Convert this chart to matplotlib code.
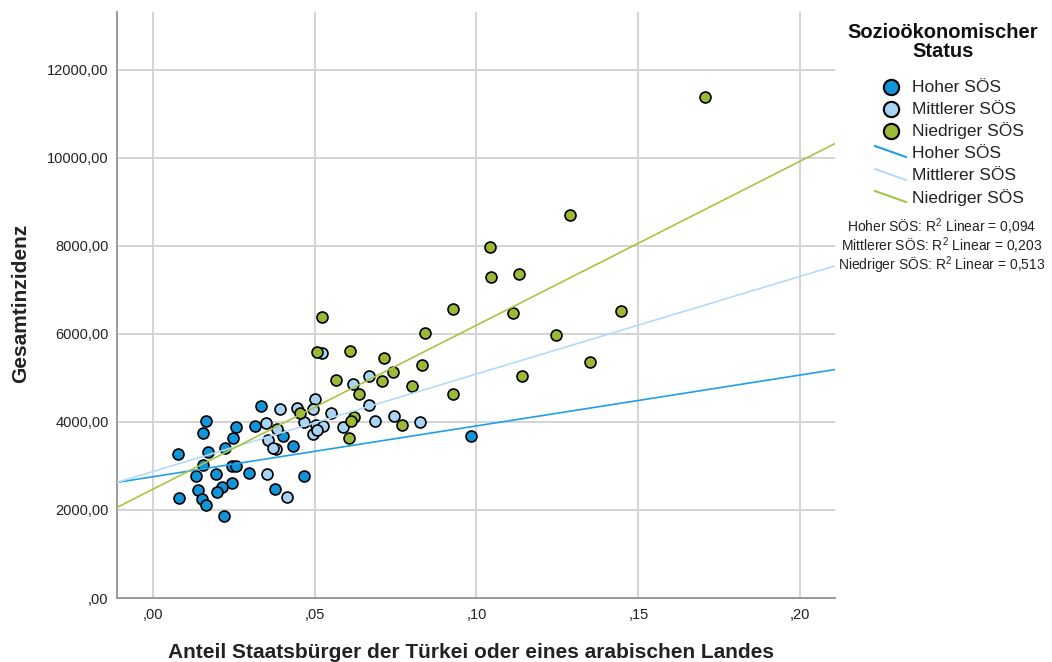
import matplotlib
matplotlib.use("Agg")
import matplotlib.pyplot as plt
from matplotlib.lines import Line2D
import numpy as np

plt.rcParams['font.family'] = ['Liberation Sans', 'DejaVu Sans']
plt.rcParams['mathtext.default'] = 'regular'

# Werte
groups = ['Hoher SÖS', 'Mittlerer SÖS', 'Niedriger SÖS']
r2_text = ['0,094', '0,203', '0,513']

hoher_x = [0.0335, 0.0166, 0.0257, 0.0316, 0.0157, 0.0248, 0.0078, 0.0172, 0.0224, 0.0157,
           0.0246, 0.0257, 0.0133, 0.0195, 0.0298, 0.0141, 0.0244, 0.0213, 0.0198, 0.0081,
           0.0152, 0.0164, 0.0220, 0.0403, 0.0432, 0.0468, 0.0377, 0.0983]
hoher_y = [4370, 4023, 3895, 3902, 3757, 3643, 3280, 3325, 3402, 3023,
           3007, 3007, 2780, 2811, 2834, 2447, 2607, 2516, 2402, 2266,
           2250, 2114, 1871, 3682, 3461, 2773, 2470, 3675]

mittel_x = [0.0524, 0.0668, 0.0619, 0.0501, 0.0669, 0.0447, 0.0494, 0.0550, 0.0466, 0.0686,
            0.0746, 0.0827, 0.0505, 0.0525, 0.0587, 0.0495, 0.0509, 0.0393, 0.0349, 0.0384,
            0.0357, 0.0380, 0.0372, 0.0352, 0.0414]
mittel_y = [5561, 5045, 4856, 4530, 4379, 4318, 4288, 4211, 4000, 4030,
            4136, 4000, 3939, 3909, 3894, 3727, 3818, 4295, 3970, 3834,
            3591, 3386, 3420, 2811, 2302]

niedrig_x = [0.1707, 0.1290, 0.1042, 0.1044, 0.1132, 0.0929, 0.1113, 0.1445, 0.1244, 0.1352,
             0.1139, 0.0929, 0.0524, 0.0841, 0.0509, 0.0610, 0.0715, 0.0831, 0.0742, 0.0566,
             0.0709, 0.0802, 0.0636, 0.0455, 0.0623, 0.0614, 0.0771, 0.0606]
niedrig_y = [11386, 8705, 7985, 7295, 7370, 6575, 6470, 6515, 5985, 5370,
             5052, 4643, 6380, 6030, 5584, 5614, 5455, 5289, 5136, 4962,
             4924, 4818, 4636, 4197, 4120, 4023, 3932, 3636]

xs_data = [hoher_x, mittel_x, niedrig_x]
ys_data = [hoher_y, mittel_y, niedrig_y]
fill_colors = ['#0f95d8', '#a9d3f3', '#9bb934']
line_colors = ['#1ea0e6', '#b3dbf7', '#a8c444']

W, H = 1052, 662
fig = plt.figure(figsize=(W / 100, H / 100), dpi=100)
ax = fig.add_axes([117 / W, 64 / H, (835 - 117) / W, (598 - 12) / H])

xlim = (-0.011, 0.2107)
ax.set_xlim(xlim)
ax.set_ylim(0, 13318)

for x, y, fc in zip(xs_data, ys_data, fill_colors):
    ax.scatter(x, y, s=62, c=fc, edgecolors='black', linewidths=1.2, zorder=3)

# Regressionsgeraden ueber den ganzen x-Bereich
xx = np.array(xlim)
for x, y, lc in zip(xs_data, ys_data, line_colors):
    coef = np.polyfit(x, y, 1)
    ax.plot(xx, np.polyval(coef, xx), color=lc, lw=1.2, zorder=4)


def de_fmt(v):
    s = f"{v:.2f}".replace('.', ',')
    if s.startswith('0,'):
        s = s[1:]
    return s


xticks = [0.0, 0.05, 0.10, 0.15, 0.20]
yticks = [0, 2000, 4000, 6000, 8000, 10000, 12000]
ax.set_xticks(xticks)
ax.set_xticklabels([de_fmt(v) for v in xticks])
ax.set_yticks(yticks)
ax.set_yticklabels([de_fmt(v) for v in yticks])
ax.tick_params(length=0, labelsize=10.5, colors='#222222')
ax.tick_params(axis='y', pad=6)
ax.tick_params(axis='x', pad=7)

ax.grid(True, color='#d4d4d4', lw=1.4)
ax.set_axisbelow(True)
for side in ['top', 'right']:
    ax.spines[side].set_visible(False)
for side in ['left', 'bottom']:
    ax.spines[side].set_color('#999999')
    ax.spines[side].set_linewidth(1.4)


def fx(px):
    return px / W


def fy(py):
    return 1 - py / H


fig.text(fx(21), fy(303), 'Gesamtinzidenz', rotation=90, ha='center', va='center',
         fontsize=15, fontweight='bold', color='#222222')
fig.text(fx(471), fy(652), 'Anteil Staatsbürger der Türkei oder eines arabischen Landes',
         ha='center', va='center', fontsize=15, fontweight='bold', color='#222222')

# Legende
fig.text(fx(943), fy(42), 'Sozioökonomischer\nStatus', ha='center', va='center',
         fontsize=14.5, fontweight='bold', linespacing=0.95, color='#111111')
marker_rows = [87, 109, 131]
line_rows = [153, 176, 198]
for row, name, fc in zip(marker_rows, groups, fill_colors):
    fig.add_artist(Line2D([fx(891)], [fy(row)], transform=fig.transFigure, marker='o',
                          ms=11, mfc=fc, mec='black', mew=1.5, ls='none'))
    fig.text(fx(912), fy(row), name, ha='left', va='center', fontsize=12.5, color='#222222')
for row, name, lc in zip(line_rows, groups, line_colors):
    fig.add_artist(Line2D([fx(875), fx(906)], [fy(row - 7), fy(row + 4)],
                          transform=fig.transFigure, color=lc, lw=1.5))
    fig.text(fx(912), fy(row), name, ha='left', va='center', fontsize=12.5, color='#222222')

r2_rows = [227, 246, 265]
for row, name, r2 in zip(r2_rows, groups, r2_text):
    fig.text(fx(942), fy(row), f'{name}: R$^2$ Linear = {r2}', ha='center', va='center',
             fontsize=10, color='#222222')

fig.savefig('out.png', dpi=100)
